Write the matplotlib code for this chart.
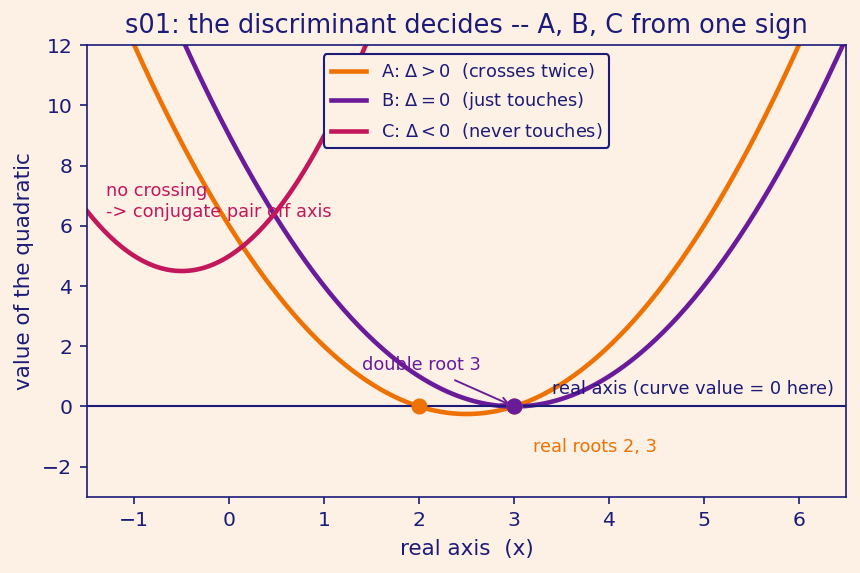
import numpy as np
import matplotlib.pyplot as plt

# quadratic coefficients (a, b, c) for each case
labels = ["A: $\\Delta > 0$  (crosses twice)",
          "B: $\\Delta = 0$  (just touches)",
          "C: $\\Delta < 0$  (never touches)"]
coeffs_A = [1, -5, 6]
coeffs_B = [1, -6, 9]
coeffs_C = [2, 2, 5]
roots_A = [2, 3]
roots_B = [3]

bg = '#fdf0e5'
ink = '#1c1c78'
c_A, c_B, c_C = '#ee7203', '#6a1b9a', '#c2185b'

plt.rcParams['font.family'] = 'DejaVu Sans'

fig, ax = plt.subplots(figsize=(8.6 / 1.5, 5.73 / 1.5), dpi=150)
fig.patch.set_facecolor(bg)
ax.set_facecolor(bg)

x = np.linspace(-1.5, 6.5, 400)
for cf, col, lab in zip([coeffs_A, coeffs_B, coeffs_C], [c_A, c_B, c_C], labels):
    ax.plot(x, np.polyval(cf, x), color=col, lw=2.2, label=lab)

ax.axhline(0, color=ink, lw=1)
ax.plot(roots_A, [0] * len(roots_A), 'o', color=c_A, ms=6.7, zorder=5)
ax.plot(roots_B, [0] * len(roots_B), 'o', color=c_B, ms=6.7, zorder=6)

ax.annotate("double root 3", xy=(3, 0), xytext=(1.4, 1.2), color=c_B,
            fontsize=8.5, arrowprops=dict(arrowstyle='->', color=c_B, lw=0.9))
ax.text(3.4, 0.4, "real axis (curve value = 0 here)", color=ink, fontsize=8.5)
ax.text(3.2, -1.5, "real roots 2, 3", color=c_A, fontsize=8.5)
ax.text(-1.3, 6.3, "no crossing\n-> conjugate pair off axis", color=c_C,
        fontsize=8.5)

ax.set_xlim(-1.5, 6.5)
ax.set_ylim(-3, 12)
ax.set_xticks(range(-1, 7))
ax.set_yticks(range(-2, 13, 2))
ax.set_xlabel("real axis  (x)", color=ink, fontsize=10.3)
ax.set_ylabel("value of the quadratic", color=ink, fontsize=10.3)
ax.set_title("s01: the discriminant decides -- A, B, C from one sign",
             color=ink, fontsize=12.3)
ax.tick_params(colors=ink, labelsize=9.8)
for sp in ax.spines.values():
    sp.set_color(ink)

leg = ax.legend(loc='upper center', fontsize=8.5, facecolor=bg, edgecolor=ink,
                framealpha=1)
for t in leg.get_texts():
    t.set_color(ink)

fig.subplots_adjust(left=0.101, right=0.984, top=0.921, bottom=0.133)
plt.savefig('out.png', dpi=150, facecolor=bg)
